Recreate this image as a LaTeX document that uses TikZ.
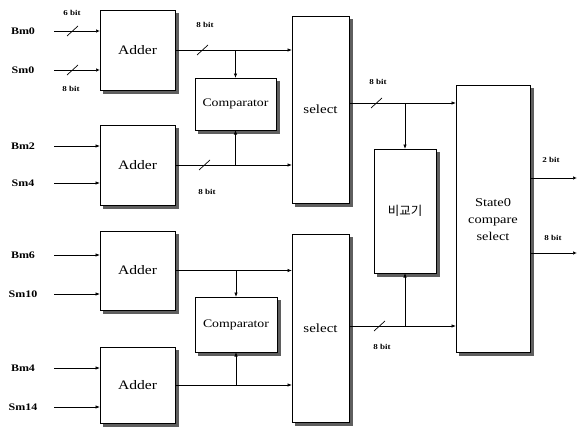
\documentclass[tikz,border=0pt]{standalone}
\usepackage{fontspec}
\setmainfont{Liberation Serif}[FakeStretch=1.2]
\newfontfamily\kr{Noto Sans CJK KR}
\usetikzlibrary{arrows.meta}
\definecolor{shdc}{RGB}{95,95,95}
\tikzset{
  blk/.style={draw, line width=0.7pt, fill=white, inner sep=0pt, outer sep=0pt, anchor=north west},
  shd/.style={fill=shdc},
  arr/.style={line width=0.7pt, -{Latex[length=4.5pt,width=3.5pt]}},
  oarr/.style={line width=0.7pt, -{Latex[open,length=4pt,width=3.5pt]}},
  inlbl/.style={font=\fontsize{10}{12}\selectfont\bfseries, inner sep=0pt},
  bitlbl/.style={font=\fontsize{7.5}{9}\selectfont\bfseries, inner sep=0pt},
  slash/.style={line width=0.7pt},
  addfont/.style={font=\fontsize{13}{15}\selectfont},
  cmpfont/.style={font=\fontsize{11.5}{14}\selectfont},
  selfont/.style={font=\fontsize{12.5}{15}\selectfont}
}
\begin{document}
\begin{tikzpicture}[x=1pt,y=-1pt]
\useasboundingbox (0,0) rectangle (582,431);
% shadows
\fill[shd] (103,13) rectangle (178.5,93.5);
\fill[shd] (103,128) rectangle (178.5,208.5);
\fill[shd] (103,234) rectangle (178.5,313.5);
\fill[shd] (103,350) rectangle (178.5,426.5);
\fill[shd] (198,81) rectangle (279.5,133.5);
\fill[shd] (198,300) rectangle (280.5,355.5);
\fill[shd] (295,19) rectangle (352.5,206.5);
\fill[shd] (295,237) rectangle (352.5,425.5);
\fill[shd] (377,152) rectangle (439.5,276.5);
\fill[shd] (459,88) rectangle (533.5,355.5);
% adders
\node[blk, addfont, minimum width=75pt, minimum height=80pt] (a1) at (100,10) {Adder};
\node[blk, addfont, minimum width=75pt, minimum height=80pt] (a2) at (100,125) {Adder};
\node[blk, addfont, minimum width=75pt, minimum height=79pt] (a3) at (100,231) {Adder};
\node[blk, addfont, minimum width=75pt, minimum height=76pt] (a4) at (100,347) {Adder};
% comparators
\node[blk, cmpfont, minimum width=81pt, minimum height=52pt] (c1) at (195,78) {Comparator};
\node[blk, cmpfont, minimum width=82pt, minimum height=55pt] (c2) at (195,297) {Comparator};
% selects
\node[blk, selfont, minimum width=57pt, minimum height=187pt] (s1) at (292,16) {select};
\node[blk, selfont, minimum width=57pt, minimum height=188pt] (s2) at (292,234) {select};
% korean comparator
\node[blk, font=\kr\fontsize{12.5}{15}\selectfont, minimum width=62pt, minimum height=124pt] (k) at (374,149) {비교기};
% state0
\node[blk, minimum width=74pt, minimum height=267pt] (st) at (456,85) {};
\node[align=center, font=\fontsize{12}{17}\selectfont, inner sep=0pt] (sttxt) at (493,220) {State0\\compare\\select};

% inputs
\coordinate (ibm0) at (54,31);
\coordinate (ism0) at (54,70);
\coordinate (ibm2) at (54,146);
\coordinate (ism4) at (54,183);
\coordinate (ibm6) at (54,255);
\coordinate (ism10) at (54,294);
\coordinate (ibm4) at (54,368);
\coordinate (ism14) at (54,407);
\node[inlbl] (lbm0) at (23,31) {Bm0};
\node[inlbl] (lsm0) at (23,70) {Sm0};
\node[inlbl] (lbm2) at (23,146) {Bm2};
\node[inlbl] (lsm4) at (23,183) {Sm4};
\node[inlbl] (lbm6) at (23,255) {Bm6};
\node[inlbl] (lsm10) at (23,294) {Sm10};
\node[inlbl] (lbm4) at (23,368) {Bm4};
\node[inlbl] (lsm14) at (23,407) {Sm14};
\draw[oarr] (ibm0) -- (ibm0 -| a1.west);
\draw[oarr] (ism0) -- (ism0 -| a1.west);
\draw[arr] (ibm2) -- (ibm2 -| a2.west);
\draw[arr] (ism4) -- (ism4 -| a2.west);
\draw[arr] (ibm6) -- (ibm6 -| a3.west);
\draw[arr] (ism10) -- (ism10 -| a3.west);
\draw[arr] (ibm4) -- (ibm4 -| a4.west);
\draw[arr] (ism14) -- (ism14 -| a4.west);
\draw[slash] (67,36) -- (78,26);
\draw[slash] (67,75) -- (78,65);
\node[bitlbl] (b6) at (72,13) {6 bit};
\node[bitlbl] (b80) at (71,89) {8 bit};

% adder outputs
\draw[arr] (a1.east) -- (a1.east -| s1.west);
\draw[arr] (a1.east -| c1.north) -- (c1.north);
\draw[arr] (a2.east) -- (a2.east -| s1.west);
\draw[arr] (a2.east -| c1.south) -- (c1.south);
\draw[arr] (a3.east) -- (a3.east -| s2.west);
\draw[arr] (a3.east -| c2.north) -- (c2.north);
\draw[arr] (a4.east) -- (a4.east -| s2.west);
\draw[arr] (a4.east -| c2.south) -- (c2.south);
\draw[slash] (197,55) -- (208,45);
\draw[slash] (199,170) -- (210,160);
\node[bitlbl] (b81) at (205,25) {8 bit};
\node[bitlbl] (b82) at (207,192) {8 bit};

% select outputs
\coordinate (so1) at (349,103);
\coordinate (so2) at (349,326);
\draw[arr] (so1) -- (so1 -| st.west);
\draw[arr] (so1 -| k.north) -- (k.north);
\draw[arr] (so2) -- (so2 -| st.west);
\draw[arr] (so2 -| k.south) -- (k.south);
\draw[slash] (371,108) -- (382,98);
\draw[slash] (374,331) -- (385,321);
\node[bitlbl] (b83) at (378,82) {8 bit};
\node[bitlbl] (b84) at (382,347) {8 bit};

% state outputs
\coordinate (o1) at (577,178);
\coordinate (o2) at (577,253);
\draw[oarr] (o1 -| st.east) -- (o1);
\draw[oarr] (o2 -| st.east) -- (o2);
\node[bitlbl] (b2) at (551,160) {2 bit};
\node[bitlbl] (b85) at (553,238) {8 bit};
\end{tikzpicture}
\end{document}
